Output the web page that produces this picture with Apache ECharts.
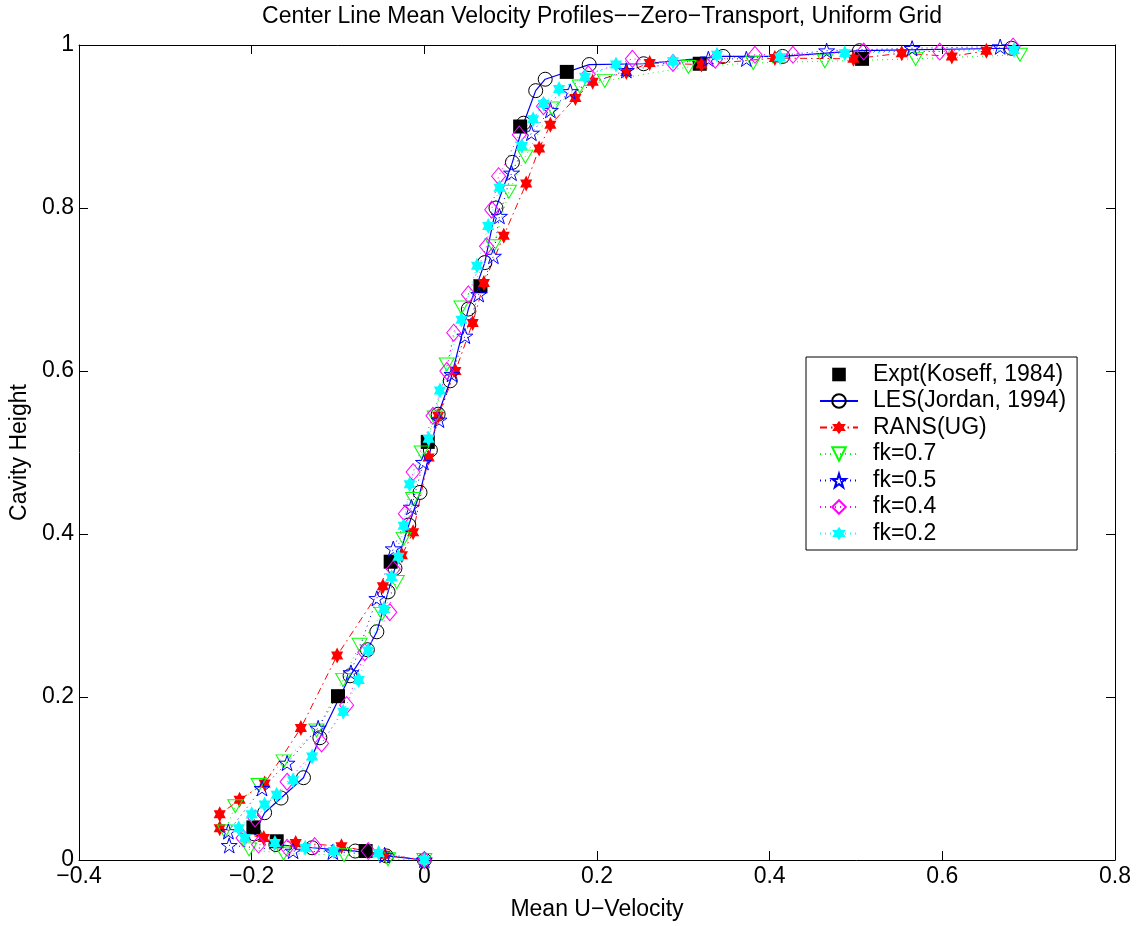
<!DOCTYPE html>
<html>
<head>
<meta charset="utf-8">
<script src="https://cdn.jsdelivr.net/npm/echarts@6/dist/echarts.min.js"></script>
<style>
html,body{margin:0;padding:0;background:#fff;}
#chart{width:1139px;height:926px;}
</style>
</head>
<body>
<div id="chart"></div>
<script>
// ---- tick labels ----
const xTickLabels = ['\u22120.4', '\u22120.2', '0', '0.2', '0.4', '0.6', '0.8'];
const yTickLabels = ['0', '0.2', '0.4', '0.6', '0.8', '1'];

// ---- series names ----
const seriesNames = ['Expt(Koseff, 1984)', 'LES(Jordan, 1994)', 'RANS(UG)', 'fk=0.7', 'fk=0.5', 'fk=0.4', 'fk=0.2'];

// ---- data: [U velocity, cavity height] ----
const exptData = [
  [-0.068, 0.011], [-0.171, 0.023], [-0.198, 0.040], [-0.100, 0.201], [-0.039, 0.366],
  [0.004, 0.513], [0.065, 0.704], [0.111, 0.900], [0.165, 0.967], [0.319, 0.977], [0.507, 0.983]
];
const lesData = [
  [0, 0], [-0.044, 0.005], [-0.080, 0.011], [-0.130, 0.015], [-0.172, 0.019], [-0.197, 0.032],
  [-0.185, 0.058], [-0.166, 0.076], [-0.140, 0.101], [-0.121, 0.150], [-0.086, 0.226], [-0.066, 0.258],
  [-0.055, 0.280], [-0.042, 0.329], [-0.034, 0.358], [-0.018, 0.411], [-0.005, 0.451], [0.007, 0.503],
  [0.016, 0.547], [0.030, 0.588], [0.051, 0.676], [0.070, 0.733], [0.083, 0.800], [0.102, 0.856],
  [0.115, 0.904], [0.129, 0.944], [0.140, 0.958], [0.191, 0.976], [0.254, 0.977], [0.346, 0.986],
  [0.415, 0.986], [0.504, 0.993], [0.680, 0.996]
];
const ransData = [
  [0, 0], [-0.046, 0.0065], [-0.096, 0.017], [-0.149, 0.021], [-0.186, 0.027], [-0.237, 0.039],
  [-0.237, 0.056], [-0.214, 0.074], [-0.185, 0.094], [-0.143, 0.162], [-0.101, 0.251], [-0.048, 0.336],
  [-0.026, 0.374], [-0.013, 0.402], [0.005, 0.494], [0.016, 0.545], [0.036, 0.600], [0.056, 0.659],
  [0.069, 0.708], [0.092, 0.766], [0.118, 0.830], [0.133, 0.873], [0.146, 0.902], [0.175, 0.935],
  [0.195, 0.955], [0.234, 0.967], [0.261, 0.978], [0.321, 0.976], [0.406, 0.984], [0.497, 0.983],
  [0.553, 0.990], [0.611, 0.986], [0.651, 0.993]
];
const fk07Data = [
  [0, 0], [-0.042, 0.001], [-0.093, 0.006], [-0.163, 0.008], [-0.203, 0.013], [-0.231, 0.035],
  [-0.219, 0.066], [-0.192, 0.092], [-0.163, 0.121], [-0.125, 0.159], [-0.094, 0.221], [-0.075, 0.264],
  [-0.049, 0.302], [-0.032, 0.341], [-0.024, 0.394], [-0.013, 0.443], [-0.003, 0.500], [0.012, 0.543],
  [0.026, 0.608], [0.043, 0.678], [0.080, 0.753], [0.098, 0.820], [0.117, 0.863], [0.148, 0.922],
  [0.180, 0.949], [0.209, 0.956], [0.306, 0.973], [0.381, 0.978], [0.464, 0.980], [0.569, 0.983],
  [0.690, 0.988]
];
const fk05Data = [
  [0, 0], [-0.046, 0.006], [-0.106, 0.010], [-0.152, 0.011], [-0.226, 0.018], [-0.227, 0.035],
  [-0.188, 0.088], [-0.159, 0.119], [-0.123, 0.162], [-0.085, 0.230], [-0.055, 0.321], [-0.036, 0.382],
  [-0.015, 0.433], [-0.001, 0.488], [0.017, 0.540], [0.032, 0.596], [0.047, 0.643], [0.063, 0.694],
  [0.080, 0.741], [0.087, 0.790], [0.101, 0.843], [0.124, 0.892], [0.146, 0.920], [0.169, 0.943],
  [0.234, 0.969], [0.329, 0.983], [0.373, 0.983], [0.466, 0.993], [0.565, 0.996], [0.667, 0.998]
];
const fk04Data = [
  [0, 0], [-0.065, 0.011], [-0.127, 0.017], [-0.159, 0.015], [-0.192, 0.019], [-0.210, 0.027],
  [-0.196, 0.051], [-0.159, 0.096], [-0.119, 0.143], [-0.090, 0.190], [-0.069, 0.255], [-0.040, 0.304],
  [-0.036, 0.357], [-0.022, 0.425], [-0.013, 0.476], [0.010, 0.545], [0.026, 0.600], [0.034, 0.647],
  [0.051, 0.694], [0.072, 0.753], [0.078, 0.798], [0.086, 0.839], [0.110, 0.890], [0.138, 0.925],
  [0.190, 0.964], [0.241, 0.983], [0.288, 0.978], [0.337, 0.982], [0.383, 0.988], [0.427, 0.988],
  [0.509, 0.992], [0.597, 0.992], [0.682, 0.998]
];
const fk02Data = [
  [0, 0], [-0.053, 0.0085], [-0.105, 0.011], [-0.138, 0.015], [-0.173, 0.021], [-0.208, 0.027],
  [-0.215, 0.039], [-0.200, 0.056], [-0.185, 0.068], [-0.171, 0.080], [-0.152, 0.098], [-0.130, 0.127],
  [-0.094, 0.182], [-0.076, 0.221], [-0.065, 0.257], [-0.047, 0.308], [-0.038, 0.347], [-0.030, 0.372],
  [-0.024, 0.410], [-0.017, 0.461], [0.005, 0.517], [0.018, 0.576], [0.043, 0.663], [0.061, 0.729],
  [0.074, 0.778], [0.087, 0.825], [0.113, 0.876], [0.126, 0.909], [0.138, 0.928], [0.156, 0.946],
  [0.186, 0.961], [0.222, 0.976], [0.288, 0.980], [0.339, 0.988], [0.412, 0.985], [0.487, 0.990],
  [0.683, 0.994]
];

// ---- styling ----
const FONT = '"Liberation Sans", Arial, Helvetica, sans-serif';
const HEXAGRAM = 'path://M0,-10L2.887,-5L8.66,-5L5.774,0L8.66,5L2.887,5L0,10L-2.887,5L-8.66,5L-5.774,0L-8.66,-5L-2.887,-5Z';
const PENTAGRAM = 'path://M0,-10L2.245,-3.09L9.511,-3.09L3.633,1.18L5.878,8.09L0,3.82L-5.878,8.09L-3.633,1.18L-9.511,-3.09L-2.245,-3.09Z';
const DOTTED = [1, 4];
const DASHDOT = [7, 4, 1.5, 4];
const FS = 23;

function fmtX(v) {
  const i = Math.round((v + 0.4) / 0.2);
  return xTickLabels[i] !== undefined ? xTickLabels[i] : '';
}
function fmtY(v) {
  const i = Math.round(v / 0.2);
  return yTickLabels[i] !== undefined ? yTickLabels[i] : '';
}

const baseLine = { type: 'line', clip: false, smooth: false, z: 2 };

const series = [
  Object.assign({}, baseLine, {
    name: seriesNames[0], data: exptData, symbol: 'rect', symbolSize: 14,
    itemStyle: { color: '#000' }, lineStyle: { width: 1, opacity: 0, color: '#000' }
  }),
  Object.assign({}, baseLine, {
    name: seriesNames[1], data: lesData, symbol: 'circle', symbolSize: 14,
    itemStyle: { color: 'transparent', borderColor: '#000', borderWidth: 1 },
    lineStyle: { width: 1.2, color: '#0000ff', type: 'solid' }
  }),
  Object.assign({}, baseLine, {
    name: seriesNames[2], data: ransData, symbol: HEXAGRAM, symbolSize: [14, 16], symbolKeepAspect: true,
    itemStyle: { color: '#ff0000' },
    lineStyle: { width: 1, color: '#ff0000', type: DASHDOT }
  }),
  Object.assign({}, baseLine, {
    name: seriesNames[3], data: fk07Data, symbol: 'triangle', symbolRotate: 180, symbolSize: [15, 13],
    itemStyle: { color: 'transparent', borderColor: '#00ff00', borderWidth: 1 },
    lineStyle: { width: 1, color: '#00ff00', type: DOTTED }
  }),
  Object.assign({}, baseLine, {
    name: seriesNames[4], data: fk05Data, symbol: PENTAGRAM, symbolSize: 16, symbolKeepAspect: true,
    itemStyle: { color: 'transparent', borderColor: '#0000ff', borderWidth: 1 },
    lineStyle: { width: 1, color: '#0000ff', type: DOTTED }
  }),
  Object.assign({}, baseLine, {
    name: seriesNames[5], data: fk04Data, symbol: 'diamond', symbolSize: [14, 17],
    itemStyle: { color: 'transparent', borderColor: '#ff00ff', borderWidth: 1 },
    lineStyle: { width: 1, color: '#ff00ff', type: DOTTED }
  }),
  Object.assign({}, baseLine, {
    name: seriesNames[6], data: fk02Data, symbol: HEXAGRAM, symbolSize: [14, 16], symbolKeepAspect: true,
    itemStyle: { color: '#00ffff' },
    lineStyle: { width: 1, color: '#00ffff', type: DOTTED }
  })
];

const axisLineStyle = { show: true, onZero: false, lineStyle: { color: '#000', width: 1 } };
const tickStyle = { show: true, inside: true, length: 9, lineStyle: { color: '#000', width: 1 } };

const option = {
  animation: false,
  backgroundColor: '#fff',
  textStyle: { fontFamily: FONT },
  title: {
    text: 'Center Line Mean Velocity Profiles\u2212\u2212Zero\u2212Transport, Uniform Grid',
    left: 597, top: 0, textAlign: 'center',
    textStyle: { fontFamily: FONT, fontSize: FS, fontWeight: 'normal', color: '#000' }
  },
  grid: { left: 79, top: 45, width: 1036, height: 817, containLabel: false },
  legend: {
    orient: 'vertical', left: 806, top: 357,
    padding: [6, 11, 5, 13],
    itemWidth: 38, itemHeight: 17, itemGap: 3.5,
    backgroundColor: '#fff', borderColor: '#000', borderWidth: 1,
    textStyle: { fontFamily: FONT, fontSize: FS, color: '#000', lineHeight: 23, padding: [0, 0, 0, 10] },
    data: seriesNames
  },
  xAxis: [
    {
      type: 'value', position: 'bottom', min: -0.4, max: 0.8, interval: 0.2,
      name: 'Mean U\u2212Velocity', nameLocation: 'middle', nameGap: 38,
      nameTextStyle: { fontFamily: FONT, fontSize: FS, color: '#000' },
      axisLine: axisLineStyle, axisTick: tickStyle, splitLine: { show: false },
      axisLabel: { formatter: fmtX, fontFamily: FONT, fontSize: FS, color: '#000', margin: 5 }
    },
    {
      type: 'value', position: 'top', min: -0.4, max: 0.8, interval: 0.2,
      axisLine: axisLineStyle, axisTick: tickStyle, splitLine: { show: false },
      axisLabel: { show: false }
    }
  ],
  yAxis: [
    {
      type: 'value', position: 'left', min: 0, max: 1, interval: 0.2,
      name: 'Cavity Height', nameLocation: 'middle', nameGap: 46, nameRotate: 90,
      nameTextStyle: { fontFamily: FONT, fontSize: FS, color: '#000' },
      axisLine: axisLineStyle, axisTick: tickStyle, splitLine: { show: false },
      axisLabel: { formatter: fmtY, fontFamily: FONT, fontSize: FS, color: '#000', margin: 5 }
    },
    {
      type: 'value', position: 'right', min: 0, max: 1, interval: 0.2,
      axisLine: axisLineStyle, axisTick: tickStyle, splitLine: { show: false },
      axisLabel: { show: false }
    }
  ],
  series: series
};

const chart = echarts.init(document.getElementById('chart'), null, { renderer: 'canvas' });
chart.setOption(option);
</script>
</body>
</html>
